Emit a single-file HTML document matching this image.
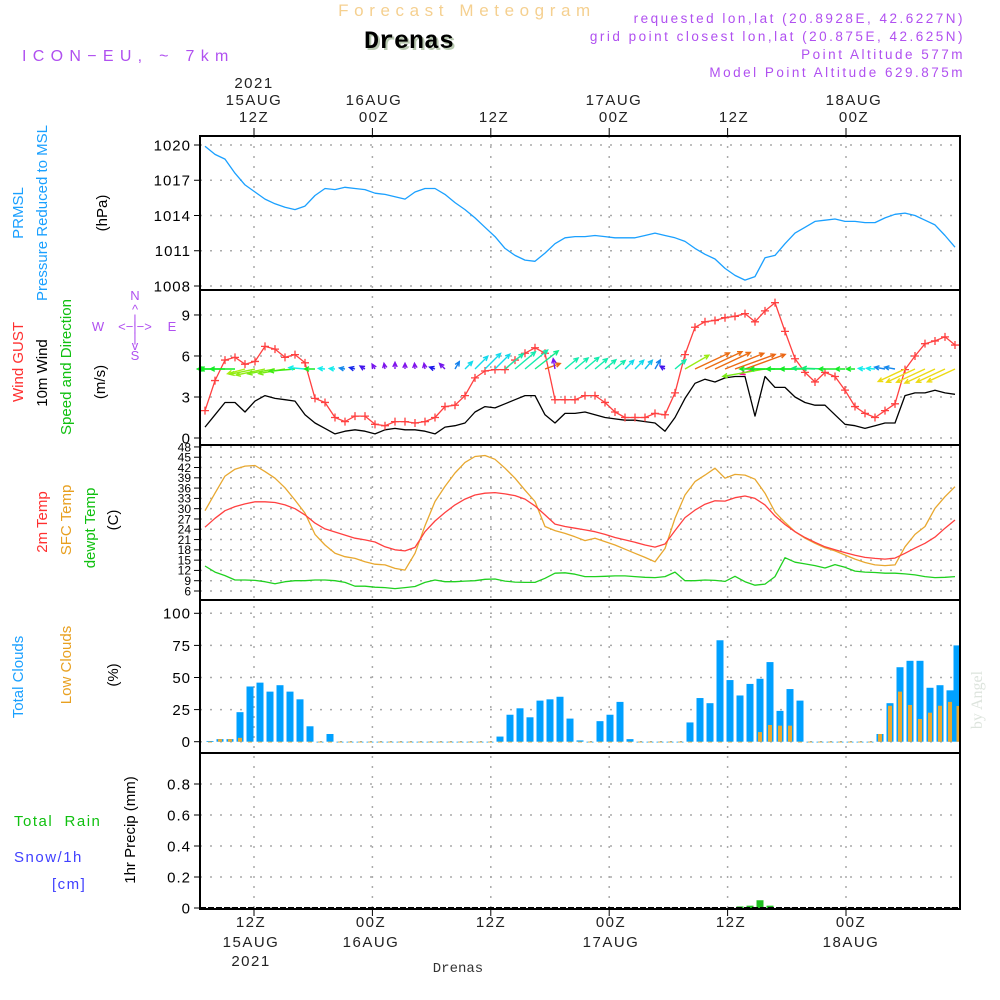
<!DOCTYPE html>
<html><head><meta charset="utf-8"><style>
html,body{margin:0;padding:0;background:#fff;}
svg{display:block;font-family:"Liberation Sans",sans-serif;}
</style></head><body>
<svg id="chart" width="1000" height="1000" viewBox="0 0 1000 1000" xmlns="http://www.w3.org/2000/svg">
<rect x="0" y="0" width="1000" height="1000" fill="#fff"/>
<text x="467" y="16" text-anchor="middle" font-size="17" fill="#f5d090" letter-spacing="5.6">Forecast Meteogram</text>
<text x="411" y="50" text-anchor="middle" font-size="25" font-weight="bold" font-family="Liberation Mono, monospace" fill="#b8c8b0">Drenas</text>
<text x="409" y="48" text-anchor="middle" font-size="25" font-weight="bold" font-family="Liberation Mono, monospace" fill="#000">Drenas</text>
<text x="22" y="61" font-size="16" fill="#b050f0" letter-spacing="6.3">ICON−EU, ~ 7km</text>
<g font-size="13.5" fill="#b050f0" text-anchor="end" letter-spacing="2.5">
<text x="965" y="23">requested lon,lat (20.8928E, 42.6227N)</text>
<text x="965" y="41">grid point closest lon,lat (20.875E, 42.625N)</text>
<text x="965" y="59">Point Altitude 577m</text>
<text x="965" y="77">Model Point Altitude 629.875m</text>
</g>
<g id="grid"></g>
<g id="marks"></g>
<g id="axes"></g>
<g font-size="15">
<text transform="translate(23,213) rotate(-90)" text-anchor="middle" fill="#1aa0ff">PRMSL</text>
<text transform="translate(47,213) rotate(-90)" text-anchor="middle" fill="#1aa0ff">Pressure Reduced to MSL</text>
<text transform="translate(107,213) rotate(-90)" text-anchor="middle" fill="#000">(hPa)</text>
<text transform="translate(23,362) rotate(-90)" text-anchor="middle" fill="#ff3030">Wind GUST</text>
<text transform="translate(47,373) rotate(-90)" text-anchor="middle" fill="#000">10m Wind</text>
<text transform="translate(71,367) rotate(-90)" text-anchor="middle" fill="#10c010">Speed and Direction</text>
<text transform="translate(105,382) rotate(-90)" text-anchor="middle" fill="#000">(m/s)</text>
<text transform="translate(47,522) rotate(-90)" text-anchor="middle" fill="#ff3030">2m Temp</text>
<text transform="translate(71,520) rotate(-90)" text-anchor="middle" fill="#e8a020">SFC Temp</text>
<text transform="translate(95,528) rotate(-90)" text-anchor="middle" fill="#10c010">dewpt Temp</text>
<text transform="translate(118,520) rotate(-90)" text-anchor="middle" fill="#000">(C)</text>
<text transform="translate(23,677) rotate(-90)" text-anchor="middle" fill="#1aa0ff">Total Clouds</text>
<text transform="translate(71,665) rotate(-90)" text-anchor="middle" fill="#e8a020">Low Clouds</text>
<text transform="translate(118,675) rotate(-90)" text-anchor="middle" fill="#000">(%)</text>
<text transform="translate(135,830) rotate(-90)" text-anchor="middle" fill="#000">1hr Precip (mm)</text>
<text x="14" y="826" fill="#10c010" letter-spacing="1.5" xml:space="preserve">Total  Rain</text>
<text x="14" y="862" fill="#4040ff" letter-spacing="1.5">Snow/1h</text>
<text x="52" y="889" fill="#4040ff" letter-spacing="1.5">[cm]</text>
</g>
<g font-size="13" fill="#b050f0" text-anchor="middle">
<text x="135" y="300">N</text><text x="135" y="314">^</text><text x="135" y="324">|</text>
<text x="135" y="331">&lt;−|−&gt;</text>
<text x="98" y="331">W</text><text x="172" y="331">E</text>
<text x="135" y="342">|</text><text x="135" y="350">v</text><text x="135" y="360">S</text>
</g>
<text transform="translate(982,700) rotate(-90)" text-anchor="middle" font-size="16" font-family="Liberation Serif, serif" fill="#dde4dd">by Angel</text>
<text x="458" y="972" text-anchor="middle" font-size="14" font-family="Liberation Mono, monospace" fill="#333">Drenas</text>
</svg>
<script>
// ---------- data ----------
var pressure = [1019.9,1019.2,1018.8,1017.6,1016.6,1016.0,1015.4,1015.0,1014.7,1014.5,1014.8,1015.7,1016.3,1016.2,1016.4,1016.3,1016.2,1015.9,1015.8,1015.6,1015.4,1016.0,1016.3,1016.3,1015.8,1015.1,1014.5,1013.8,1013.0,1012.2,1011.2,1010.6,1010.2,1010.1,1010.8,1011.6,1012.1,1012.2,1012.2,1012.3,1012.2,1012.1,1012.1,1012.1,1012.3,1012.5,1012.3,1012.1,1011.8,1011.2,1010.7,1010.3,1009.5,1008.9,1008.5,1008.8,1010.4,1010.6,1011.6,1012.5,1013.0,1013.5,1013.6,1013.7,1013.5,1013.5,1013.4,1013.4,1013.8,1014.1,1014.2,1014.0,1013.6,1013.2,1012.3,1011.3];
var gust = [2.0,4.2,5.7,5.9,5.4,5.6,6.7,6.5,5.9,6.1,5.5,2.9,2.6,1.5,1.2,1.6,1.6,1.0,0.9,1.2,1.2,1.1,1.2,1.5,2.3,2.4,3.1,4.4,4.9,5.0,5.0,5.7,6.2,6.6,6.2,2.8,2.8,2.8,3.1,3.1,2.6,1.9,1.5,1.5,1.5,1.8,1.7,3.3,6.1,8.1,8.5,8.6,8.8,8.9,9.1,8.5,9.3,9.9,7.8,5.8,4.8,4.1,4.8,4.5,3.5,2.3,1.8,1.5,2.0,2.5,5.0,6.0,6.9,7.1,7.4,6.8];
var wind10m = [0.8,1.7,2.6,2.6,1.9,2.7,3.1,2.9,2.8,2.7,1.7,1.1,0.7,0.3,0.5,0.6,0.5,0.3,0.6,0.7,0.6,0.6,0.5,0.3,0.8,0.9,1.1,1.9,2.3,2.2,2.5,2.8,3.1,3.1,1.7,1.1,1.8,1.8,1.9,1.7,1.5,1.4,1.3,1.3,1.2,1.1,0.5,1.5,2.9,4.0,4.3,4.1,4.4,4.5,4.5,1.6,4.5,3.7,3.7,3.0,2.6,2.4,2.4,1.7,1.0,0.9,0.7,0.9,1.1,1.1,3.1,3.3,3.3,3.5,3.3,3.2];
var windDir = [180,180,180,180,195,192,192,190,190,185,175,180,175,175,170,165,150,120,100,90,90,95,100,160,135,60,45,45,45,45,40,40,40,38,20,100,40,40,40,40,40,40,45,45,50,60,150,40,30,25,25,25,22,20,20,200,190,180,180,180,180,178,178,180,180,180,175,175,170,170,205,205,205,205,205,205];
var temp2m = [24.6,27.2,29.4,30.6,31.4,32.0,32.0,31.8,31.1,30.0,28.2,25.8,24.1,23.2,22.3,21.4,20.9,20.3,18.9,18.0,17.7,18.7,23.3,26.4,28.9,31.1,32.8,34.0,34.5,34.7,34.3,33.8,32.8,30.8,28.2,25.5,24.8,24.3,23.8,23.3,22.5,21.6,20.9,20.2,19.4,18.8,19.7,23.6,27.4,29.6,31.3,32.3,32.2,33.2,33.7,33.0,31.1,27.9,25.4,23.3,21.6,20.2,18.9,18.0,17.2,16.4,15.8,15.5,15.3,15.6,17.0,18.5,19.9,21.7,24.3,26.7];
var tempSfc = [29.4,34.5,39.5,41.5,42.4,42.6,40.8,38.9,36.1,32.5,28.7,22.5,19.4,17.0,16.0,15.5,14.5,13.8,13.6,12.6,12.1,17.0,25.0,32.1,36.5,40.4,43.5,45.2,45.5,44.4,41.8,38.9,35.4,32.1,24.8,23.6,22.8,21.8,20.7,21.4,20.4,19.4,18.2,17.0,15.8,14.5,18.4,27.2,34.0,37.9,39.8,41.8,38.9,40.0,39.8,38.6,34.5,29.0,26.0,23.3,21.4,19.9,18.6,17.7,16.5,15.3,14.3,13.6,13.4,13.6,18.9,22.5,24.8,30.1,33.5,36.4];
var dewpt = [13.3,11.5,10.5,9.2,9.2,9.1,8.7,8.1,8.7,9.0,9.0,9.2,9.2,9.0,8.5,7.4,7.4,7.1,7.0,6.7,7.0,7.3,8.5,9.2,8.7,8.7,8.9,9.0,9.4,9.5,8.9,8.6,8.5,8.5,9.7,11.2,11.3,10.9,10.2,10.2,10.3,10.4,10.4,10.2,10.0,9.9,10.2,11.5,9.0,9.0,9.2,9.1,8.8,10.3,8.7,7.7,8.0,10.2,15.7,14.4,13.9,13.4,12.7,13.7,12.9,11.8,11.5,11.4,11.2,11.2,11.0,10.7,10.2,9.9,10.0,10.2];
var totalClouds = [0.5,2,2,23,43,46,39,44,39,33,12,0,6,0,0,0,0,0,0,0,0,0,0,0,0,0,0,0,0,4,21,26,19,32,33,35,18,1,0,16,21,31,2,0,0,0,0,0,15,34,30,79,48,36,45,49,62,24,41,32,0,0,0,0,0,0,0,6,30,58,63,63,42,44,40,75];
var lowClouds = [0,2,2,3,0,0,0,0,0,0,0,0,0,0,0,0,0,0,0,0,0,0,0,0,0,0,0,0,0,0,0,0,0,0,0,0,0,0,0,0,0,0,0,0,0,0,0,0,0,0,0,0,0,0,0,7.5,13,12.5,12.5,0,0,0,0,0,0,0,0,6,28,39,28.6,17.7,22.6,28,31,27.8];
var precip = [0,0,0,0,0,0,0,0,0,0,0,0,0,0,0,0,0,0,0,0,0,0,0,0,0,0,0,0,0,0,0,0,0,0,0,0,0,0,0,0,0,0,0,0,0,0,0,0,0,0,0,0,0,0.01,0.015,0.05,0.015,0,0,0,0,0,0,0,0,0,0,0,0,0,0,0,0,0,0,0];
var pressureTicks = [1020,1017,1014,1011,1008];
var windTicks = [9,6,3,0];
var tempTicks = [48,45,42,39,36,33,30,27,24,21,18,15,12,9,6];
var cloudTicks = [100,75,50,25,0];
var precipTicks = [0.8,0.6,0.4,0.2,0];
var timeSteps = [0,1,2,3,4,5];
var timeTopLabels = [["2021","15AUG","12Z"],["","16AUG","00Z"],["","","12Z"],["","17AUG","00Z"],["","","12Z"],["","18AUG","00Z"]];
var timeBottomLabels = [["12Z","15AUG","2021"],["00Z","16AUG",""],["12Z","",""],["00Z","17AUG",""],["12Z","",""],["00Z","18AUG",""]];

// ---------- axes ----------
var L=200,R=960;
function X(i){return 205+10*i;}
function xGrid(k){return 254+118.4*k;}
function xLabel(k){return 251+120*k;}
function yP(v){return 145+(1020-v)*11.75;}
function yW(v){return 438-v*13.67;}
function yT(v){return 591-(v-6)*3.43;}
function yC(v){return 741.7-v*1.284;}
function yR(v){return 908-v*155;}
var NS="http://www.w3.org/2000/svg";
function mk(parent,tag,attrs){var e=document.createElementNS(NS,tag);for(var k in attrs)e.setAttribute(k,attrs[k]);parent.appendChild(e);return e;}
var grid=document.getElementById('grid'),marks=document.getElementById('marks'),axes=document.getElementById('axes');
var panels=[[136,290],[290,445],[445,600],[600,753],[753,909]];

function hTicks(ticks,fy,name,fs,ls){
  ticks.forEach(function(t){
    var y=fy(t);
    var g=mk(grid,'line',{x1:L,x2:R,y1:y,y2:y,stroke:'#aaa','stroke-width':1.5,'stroke-dasharray':'2,8'});
    
    
    var tk=mk(axes,'line',{x1:L-6,x2:L,y1:y,y2:y,stroke:'#000','stroke-width':1});
    
    
    var tx=mk(axes,'text',{x:L-9,y:y+fs*0.36,'text-anchor':'end','font-size':fs,fill:'#000','letter-spacing':ls});
    tx.textContent=String(t);
    
    
  });
}
hTicks(pressureTicks,yP,'pressure-axis',15,1);
hTicks(windTicks,yW,'wind-axis',15,1);
hTicks(tempTicks,yT,'temp-axis',12,0);
hTicks(cloudTicks,yC,'cloud-axis',15,1);
hTicks(precipTicks,yR,'precip-axis',15,1);

timeSteps.forEach(function(k){
  var x=xGrid(k), xl=xLabel(k);
  var v=mk(grid,'line',{x1:x,x2:x,y1:136,y2:909,stroke:'#aaa','stroke-width':1.5,'stroke-dasharray':'2,8'});
  
  
  var tk=mk(axes,'line',{x1:x,x2:x,y1:128,y2:136,stroke:'#000'});
  
  
  var tk2=mk(axes,'line',{x1:x,x2:x,y1:909,y2:916,stroke:'#000'});
  
  
  var lab=timeTopLabels[k];
  [88,105,122].forEach(function(yy,j){ if(!lab[j])return;
    var t=mk(axes,'text',{x:xl+3,y:yy,'text-anchor':'middle','font-size':15,fill:'#222','letter-spacing':1.5});
    t.textContent=lab[j];
    
    
  });
  var lb=timeBottomLabels[k];
  [927,947,966].forEach(function(yy,j){ if(!lb[j])return;
    var t=mk(axes,'text',{x:xl,y:yy,'text-anchor':'middle','font-size':15,fill:'#222','letter-spacing':1.5});
    t.textContent=lb[j];
    
    
  });
});

panels.forEach(function(p){
  var r=mk(axes,'rect',{x:L,y:p[0],width:R-L,height:p[1]-p[0],fill:'none',stroke:'#000','stroke-width':2});
  
  
});

function line(arr,fy,color,name,w){
  var d=arr.map(function(v,i){return (i?'L':'M')+X(i)+','+fy(v).toFixed(1);}).join('');
  var p=mk(marks,'path',{d:d,fill:'none',stroke:color,'stroke-width':w||1.3,'stroke-linejoin':'round'});
  
  
}
line(pressure,yP,'#1aa0ff','pressure-line');
line(wind10m,yW,'#000','wind-10m-line');
line(gust,yW,'#ff4040','wind-gust-line');
gust.forEach(function(v,i){
  var x=X(i),y=yW(v);
  var m=mk(marks,'path',{d:'M'+(x-4)+','+y+'h8M'+x+','+(y-4)+'v8',stroke:'#ff4040','stroke-width':1.3});
  
  
});

var hueAnchors=[[0,15],[25,25],[35,140],[45,185],[60,210],[90,270],[140,265],[165,235],[175,180],[180,125],[192,85],[205,55],[360,15]];
function hueFor(a){for(var k=1;k<hueAnchors.length;k++){if(a<=hueAnchors[k][0]){var a0=hueAnchors[k-1],a1=hueAnchors[k];return a0[1]+(a1[1]-a0[1])*(a-a0[0])/(a1[0]-a0[0]);}}return 0;}
windDir.forEach(function(a,i){
  var sp=Math.max(wind10m[i],0.6);
  var Lw=sp*9.5, rad=a*Math.PI/180;
  var x0=X(i),y0=369,x1=x0+Lw*Math.cos(rad),y1=y0-Lw*Math.sin(rad);
  var h1=rad+Math.PI-0.45,h2=rad+Math.PI+0.45,hl=5;
  var d='M'+x0+','+y0+'L'+x1.toFixed(1)+','+y1.toFixed(1)+'M'+(x1+hl*Math.cos(h1)).toFixed(1)+','+(y1-hl*Math.sin(h1)).toFixed(1)+'L'+x1.toFixed(1)+','+y1.toFixed(1)+'L'+(x1+hl*Math.cos(h2)).toFixed(1)+','+(y1-hl*Math.sin(h2)).toFixed(1);
  var col=(a>=197&&a<=202)?'#ff1090':'hsl('+hueFor(a).toFixed(0)+',85%,50%)';
  var ar=mk(marks,'path',{d:d,fill:'none',stroke:col,'stroke-width':1.4});
  
  
});

line(tempSfc,yT,'#e8a830','sfc-temp-line');
line(temp2m,yT,'#ff4040','temp-2m-line');
line(dewpt,yT,'#20d020','dewpoint-line');

totalClouds.forEach(function(v,i){
  var x=X(i)+5; if(x>=960)x=957;
  var y=yC(v);
  var b=mk(marks,'rect',{x:x-3.5,y:y,width:Math.min(7,960-(x-3.5)),height:Math.max(yC(0)-y,0.8),fill:'#00a0ff'});
  
  
});
lowClouds.forEach(function(v,i){
  var x=X(i)+5; if(x>=960)x=958.5;
  var y=yC(v);
  var b=mk(marks,'rect',{x:x-2,y:y,width:Math.min(4,960-(x-2)),height:Math.max(yC(0)-y,0.8),fill:'#e8a830'});
  
  
});
precip.forEach(function(v,i){
  if(v<=0)return;
  var x=X(i)+5,y=yR(v);
  var b=mk(marks,'rect',{x:x-3.5,y:y,width:7,height:yR(0)-y,fill:'#20c020'});
  
  
});
var base=mk(marks,'line',{x1:L,x2:R,y1:908,y2:908,stroke:'#000','stroke-width':2,'stroke-dasharray':'6,2'});


</script>
</body></html>
